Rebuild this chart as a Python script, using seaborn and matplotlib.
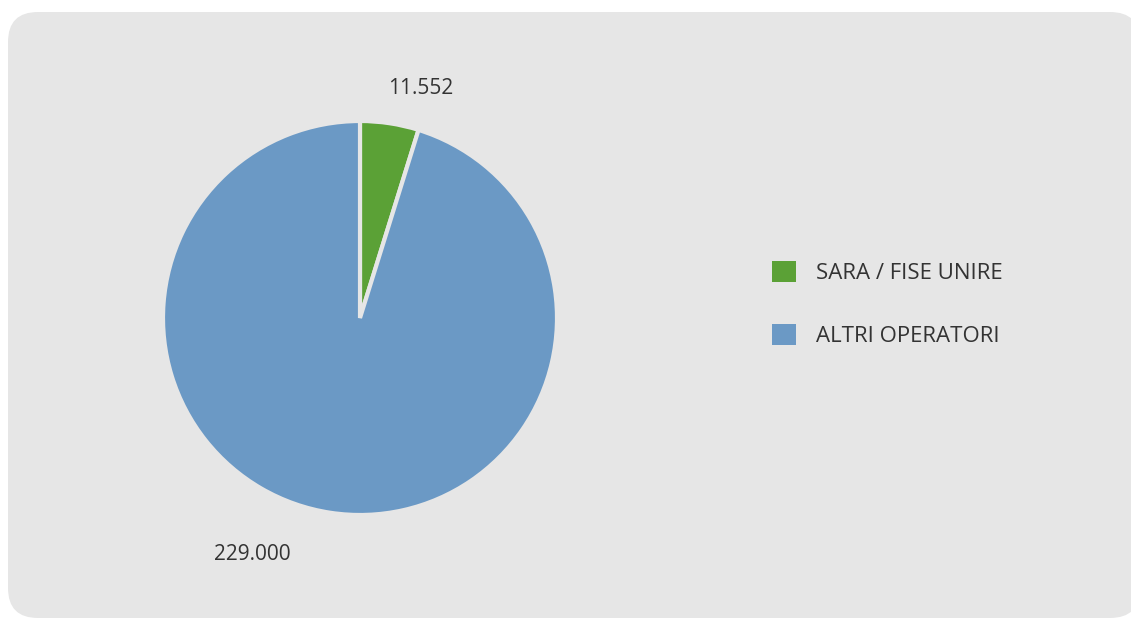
import matplotlib
matplotlib.use("Agg")
import matplotlib.pyplot as plt
import seaborn as sns
from matplotlib.patches import FancyBboxPatch

# data
categories = ["SARA / FISE UNIRE", "ALTRI OPERATORI"]
values = [11552, 229000]
value_labels = ["11.552", "229.000"]
colors = ["#5BA136", "#6B99C5"]

bg_color = "#E6E6E6"
text_color = "#333333"

sns.set_theme(style="white")
plt.rcParams["font.family"] = ["Open Sans", "DejaVu Sans"]

W, H = 1131, 619
fig = plt.figure(figsize=(W / 100, H / 100), dpi=100)
fig.patch.set_facecolor("white")

ax = fig.add_axes([0, 0, 1, 1])

# rounded panel
panel = FancyBboxPatch((8, 1), 1132, H - 13,
                       boxstyle="round,pad=0,rounding_size=30",
                       facecolor=bg_color, edgecolor="none", zorder=0)
ax.add_patch(panel)

wedges, _ = ax.pie(values, colors=colors, startangle=90, counterclock=False,
                   center=(360, H - 318), radius=197, frame=True,
                   wedgeprops=dict(edgecolor=bg_color, linewidth=3))
ax.set_xlim(0, W)
ax.set_ylim(0, H)
ax.set_aspect("equal")
ax.axis("off")

# value labels
ax.text(421, H - 88, value_labels[0], ha="center", va="center",
        fontsize=15, color=text_color)
ax.text(252, H - 554, value_labels[1], ha="center", va="center",
        fontsize=15, color=text_color)

leg = ax.legend(wedges, categories, loc="upper left",
                bbox_to_anchor=(752 / W, 1 - 241 / H), frameon=False,
                fontsize=16, handlelength=1.08, handleheight=1.08,
                labelspacing=1.8, handletextpad=0.9, labelcolor=text_color)
for h in leg.legend_handles:
    h.set_edgecolor("none")

fig.savefig("out.png", dpi=100, facecolor="white")
